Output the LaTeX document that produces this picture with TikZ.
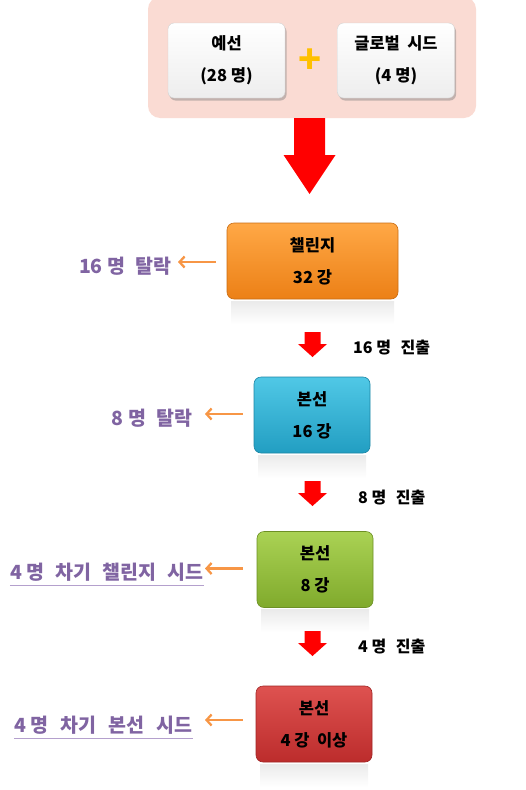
\documentclass[tikz,border=0pt]{standalone}
\usepackage{fontspec}
\setmainfont{Noto Sans CJK KR}
\usetikzlibrary{arrows.meta,shadows,calc}
\definecolor{pinkbg}{RGB}{250,219,211}
\definecolor{purp}{RGB}{128,100,162}
\definecolor{purpline}{RGB}{180,160,205}
\definecolor{orarrow}{RGB}{247,150,70}
\definecolor{plusc}{RGB}{255,192,0}
\definecolor{orT}{RGB}{255,168,70}
\definecolor{orB}{RGB}{236,128,22}
\definecolor{blT}{RGB}{80,200,230}
\definecolor{blB}{RGB}{34,158,194}
\definecolor{grT}{RGB}{170,210,84}
\definecolor{grB}{RGB}{128,170,44}
\definecolor{rdT}{RGB}{222,82,80}
\definecolor{rdB}{RGB}{188,44,44}
\begin{document}
\begin{tikzpicture}[x=1pt,y=-1pt,
  boxtext/.style={align=center, font=\bfseries\fontsize{16.5}{32}\selectfont, text=black},
  wbox/.style={boxtext, rounded corners=6pt, minimum width=117pt, minimum height=75pt,
    top color=white, bottom color=black!7, draw=black!18,
    drop shadow={shadow xshift=1.5pt,shadow yshift=-2.5pt,opacity=0.45}},
  cbox/.style 2 args={boxtext, rounded corners=7pt, minimum height=76pt,
    top color=#1, bottom color=#2, draw=#2!85!black, line width=0.6pt},
  reflect/.style={top color=black!8, bottom color=white, draw=none},
  droplabel/.style={text=purp, font=\bfseries\fontsize{19.5}{22}\selectfont, inner sep=0pt},
  passlabel/.style={text=black, font=\bfseries\fontsize{16}{18}\selectfont, inner sep=0pt},
  sidearrow/.style={orarrow, line width=2.3pt, -{Straight Barb[length=5pt,width=11pt]}},
  underl/.style={purpline, line width=1.6pt},
  bigarrow/.pic={\fill[red] (-15.5,0) -- (15.5,0) -- (15.5,37) -- (26,37) -- (0,76) -- (-26,37) -- (-15.5,37) -- cycle;},
  smallarrow/.pic={\fill[red] (-8,0) -- (8,0) -- (8,12) -- (14.5,12) -- (0,25) -- (-14.5,12) -- (-8,12) -- cycle;}
]
\useasboundingbox (0,0) rectangle (525,790);

% top container
\node[fill=pinkbg, rounded corners=12pt, minimum width=328pt, minimum height=121pt, inner sep=0pt] (top) at (312,57.5) {};
\node[wbox] (pre) at (226.5,60.5) {예선\\(28 명)};
\node[wbox] (seed) at (396,60.5) {글로벌\hspace{0.45em}시드\\(4 명)};
\node[text=plusc, font=\bfseries\fontsize{38}{38}\selectfont, inner sep=0pt] (plus) at (310,61) {+};

% big arrow
\pic at (309.5,118) {bigarrow};

% boxes
\fill[reflect] (231,301) rectangle (394,324);
\node[cbox={orT}{orB}, minimum width=171pt] (c32) at (312.5,261) {챌린지\\32 강};

\fill[reflect] (258,455) rectangle (366,478);
\node[cbox={blT}{blB}, minimum width=116pt] (m16) at (312,415) {본선\\16 강};

\fill[reflect] (261,609) rectangle (369,632);
\node[cbox={grT}{grB}, minimum width=116pt] (m8) at (315,569.5) {본선\\8 강};

\fill[reflect] (260,764) rectangle (368,787);
\node[cbox={rdT}{rdB}, minimum width=116pt] (m4) at (314,724) {본선\\4 강\hspace{0.45em}이상};

% small arrows
\pic at (312.5,332) {smallarrow};
\pic at (312.5,481) {smallarrow};
\pic at (312.5,631) {smallarrow};

% pass labels
\node[passlabel, anchor=west] (p16) at (353,348) {16 명\hspace{0.6em}진출};
\node[passlabel, anchor=west] (p8) at (358,498) {8 명\hspace{0.6em}진출};
\node[passlabel, anchor=west] (p4) at (358,647) {4 명\hspace{0.6em}진출};

% drop labels
\node[droplabel, anchor=east] (d16) at (172,266) {16 명\hspace{0.55em}탈락};
\node[droplabel, anchor=east] (d8) at (193,418) {8 명\hspace{0.55em}탈락};
\node[droplabel, anchor=east] (d4c) at (204,572) {4 명\hspace{0.58em}차기\hspace{0.58em}챌린지\hspace{0.58em}시드};
\node[droplabel, anchor=east] (d4b) at (193,725) {4 명\hspace{0.62em}차기\hspace{0.62em}본선\hspace{0.62em}시드};
\draw[underl] ($(d4c.south west)+(0,4)$) -- ($(d4c.south east)+(0,4)$);
\draw[underl] ($(d4b.south west)+(0,4)$) -- ($(d4b.south east)+(0,4)$);

% side arrows
\draw[sidearrow] ($(c32.west)+(-11,1)$) -- ($(d16.east |- c32.west)+(6,1)$);
\draw[sidearrow] ($(m16.west)+(-11,-1)$) -- ($(d8.east |- m16.west)+(12,-1)$);
\draw[sidearrow] ($(m8.west)+(-14,-1)$) -- ($(d4c.east |- m8.west)+(1,-1)$);
\draw[sidearrow] ($(m4.west)+(-13,-4)$) -- ($(d4b.east |- m4.west)+(12,-4)$);
\end{tikzpicture}
\end{document}
